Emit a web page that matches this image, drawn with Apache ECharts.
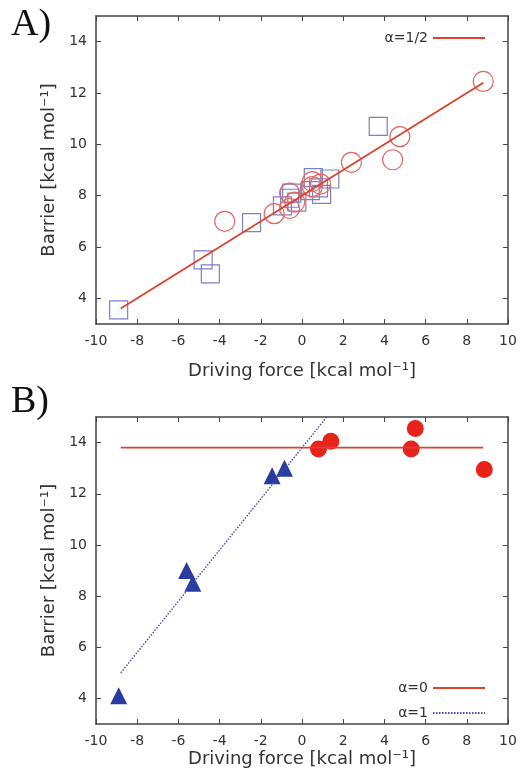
<!DOCTYPE html>
<html>
<head>
<meta charset="utf-8">
<script src="https://cdn.jsdelivr.net/npm/echarts@6/dist/echarts.min.js"></script>
<style>
  html, body { margin: 0; padding: 0; background: #fff; }
  #chart { width: 522px; height: 777px; }
</style>
</head>
<body>
<div id="chart"></div>
<script>
// tick labels
var xTicks = [-10, -8, -6, -4, -2, 0, 2, 4, 6, 8, 10];
var yTicks = [4, 6, 8, 10, 12, 14];

// A) open circles / open squares, fit line alpha=1/2
var aCircles = [
  [8.8, 12.45], [4.75, 10.3], [4.4, 9.4], [2.4, 9.3], [0.5, 8.55], [0.5, 8.35],
  [0.9, 8.45], [-0.6, 8.1], [-0.35, 7.75], [-1.35, 7.3], [-3.75, 7.0], [-0.6, 7.5]
];
var aSquares = [
  [-8.9, 3.55], [-4.8, 5.5], [-4.45, 4.95], [-2.45, 6.95], [-0.95, 7.6], [-0.6, 7.9],
  [-0.5, 8.1], [-0.25, 7.75], [0.4, 8.2], [0.8, 8.3], [0.55, 8.7], [1.35, 8.65],
  [3.7, 10.7], [0.95, 8.05]
];
var aFit = [[-8.8, 3.6], [8.8, 12.4]];

// B) filled circles / filled triangles, lines alpha=0 and alpha=1
var bCircles = [[0.8, 13.75], [1.4, 14.05], [5.5, 14.55], [5.3, 13.75], [8.85, 12.95]];
var bTriangles = [[-8.9, 4.1], [-5.6, 9.0], [-5.3, 8.5], [-1.45, 12.7], [-0.85, 13.0]];
var bAlpha0 = [[-8.8, 13.8], [8.8, 13.8]];
var bAlpha1 = [[-8.8, 5.0], [1.2, 15.0]];

var axisColor = '#444';
var labelFont = { fontFamily: 'DejaVu Sans', fontSize: 14, color: '#333' };
var nameFont = { fontFamily: 'DejaVu Sans', fontSize: 18, color: '#333' };

function xAx(grid, pos, nameGap) {
  var main = pos === 'bottom';
  return {
    gridIndex: grid, type: 'value', position: pos, min: -10, max: 10, interval: 2,
    name: main ? 'Driving force [kcal mol\u207B\u00B9]' : '',
    nameLocation: 'middle', nameGap: nameGap, nameTextStyle: nameFont,
    axisLine: { show: true, onZero: false, lineStyle: { color: axisColor, width: 1.5 } },
    axisTick: { show: true, inside: true, length: 5, lineStyle: { color: axisColor } },
    axisLabel: Object.assign({ show: main, margin: 10 }, labelFont),
    splitLine: { show: false }
  };
}
function yAx(grid, pos) {
  var main = pos === 'left';
  return {
    gridIndex: grid, type: 'value', position: pos, min: 3, max: 15,
    name: main ? 'Barrier [kcal mol\u207B\u00B9]' : '',
    nameLocation: 'middle', nameGap: 37, nameTextStyle: nameFont,
    axisLine: { show: true, onZero: false, lineStyle: { color: axisColor, width: 1.5 } },
    axisTick: { show: true, inside: true, length: 5, customValues: yTicks, lineStyle: { color: axisColor } },
    axisLabel: Object.assign({ show: main, margin: 9, customValues: yTicks }, labelFont),
    splitLine: { show: false }
  };
}

var legendText = { fontFamily: 'DejaVu Sans', fontSize: 14, color: '#333' };

var chart = echarts.init(document.getElementById('chart'));
var option = {
  animation: false,
  backgroundColor: '#fff',
  grid: [
    { left: 96, top: 16, width: 412, height: 308 },
    { left: 96, top: 417, width: 412, height: 307 }
  ],
  xAxis: [xAx(0, 'bottom', 38), xAx(0, 'top', 0), xAx(1, 'bottom', 26), xAx(1, 'top', 0)],
  yAxis: [yAx(0, 'left'), yAx(0, 'right'), yAx(1, 'left'), yAx(1, 'right')],
  legend: [
    {
      data: ['\u03B1=1/2'], right: 31, top: 26, align: 'right', itemWidth: 52, itemHeight: 14,
      itemStyle: { opacity: 0 }, textStyle: legendText
    },
    {
      data: ['\u03B1=0', '\u03B1=1'], right: 31, top: 676, orient: 'vertical', align: 'right',
      itemWidth: 52, itemHeight: 14, itemGap: 11,
      itemStyle: { opacity: 0 }, textStyle: legendText
    }
  ],
  graphic: [
    { type: 'text', left: 11, top: 6, style: { text: 'A)', font: '38px "Liberation Serif"', fill: '#111' } },
    { type: 'text', left: 11, top: 383, style: { text: 'B)', font: '38px "Liberation Serif"', fill: '#111' } }
  ],
  series: [
    {
      type: 'scatter', xAxisIndex: 0, yAxisIndex: 0, data: aSquares, symbol: 'rect', symbolSize: 18,
      itemStyle: { color: 'rgba(0,0,0,0)', borderColor: '#7f7fc6', borderWidth: 1.2, opacity: 1 }
    },
    {
      type: 'scatter', xAxisIndex: 0, yAxisIndex: 0, data: aCircles, symbol: 'circle', symbolSize: 20,
      itemStyle: { color: 'rgba(0,0,0,0)', borderColor: '#e8665a', borderWidth: 1.2, opacity: 1 }
    },
    {
      name: '\u03B1=1/2', type: 'line', xAxisIndex: 0, yAxisIndex: 0, data: aFit, symbol: 'none',
      lineStyle: { color: '#e0402e', width: 1.8 }, itemStyle: { color: '#e0402e' }
    },
    {
      name: '\u03B1=0', type: 'line', xAxisIndex: 2, yAxisIndex: 2, data: bAlpha0, symbol: 'none',
      lineStyle: { color: '#e0402e', width: 1.8 }, itemStyle: { color: '#e0402e' }
    },
    {
      name: '\u03B1=1', type: 'line', xAxisIndex: 2, yAxisIndex: 2, data: bAlpha1, symbol: 'none',
      lineStyle: { color: '#4a4ab8', width: 1.4, type: [1.5, 1.5] }, itemStyle: { color: '#4a4ab8' }
    },
    {
      type: 'scatter', xAxisIndex: 2, yAxisIndex: 2, data: bCircles, symbol: 'circle', symbolSize: 17,
      itemStyle: { color: '#e8231c', opacity: 1 }
    },
    {
      type: 'scatter', xAxisIndex: 2, yAxisIndex: 2, data: bTriangles, symbol: 'triangle', symbolSize: 17,
      itemStyle: { color: '#2a3c9e', opacity: 1 }
    }
  ]
};
chart.setOption(option);
</script>
</body>
</html>
